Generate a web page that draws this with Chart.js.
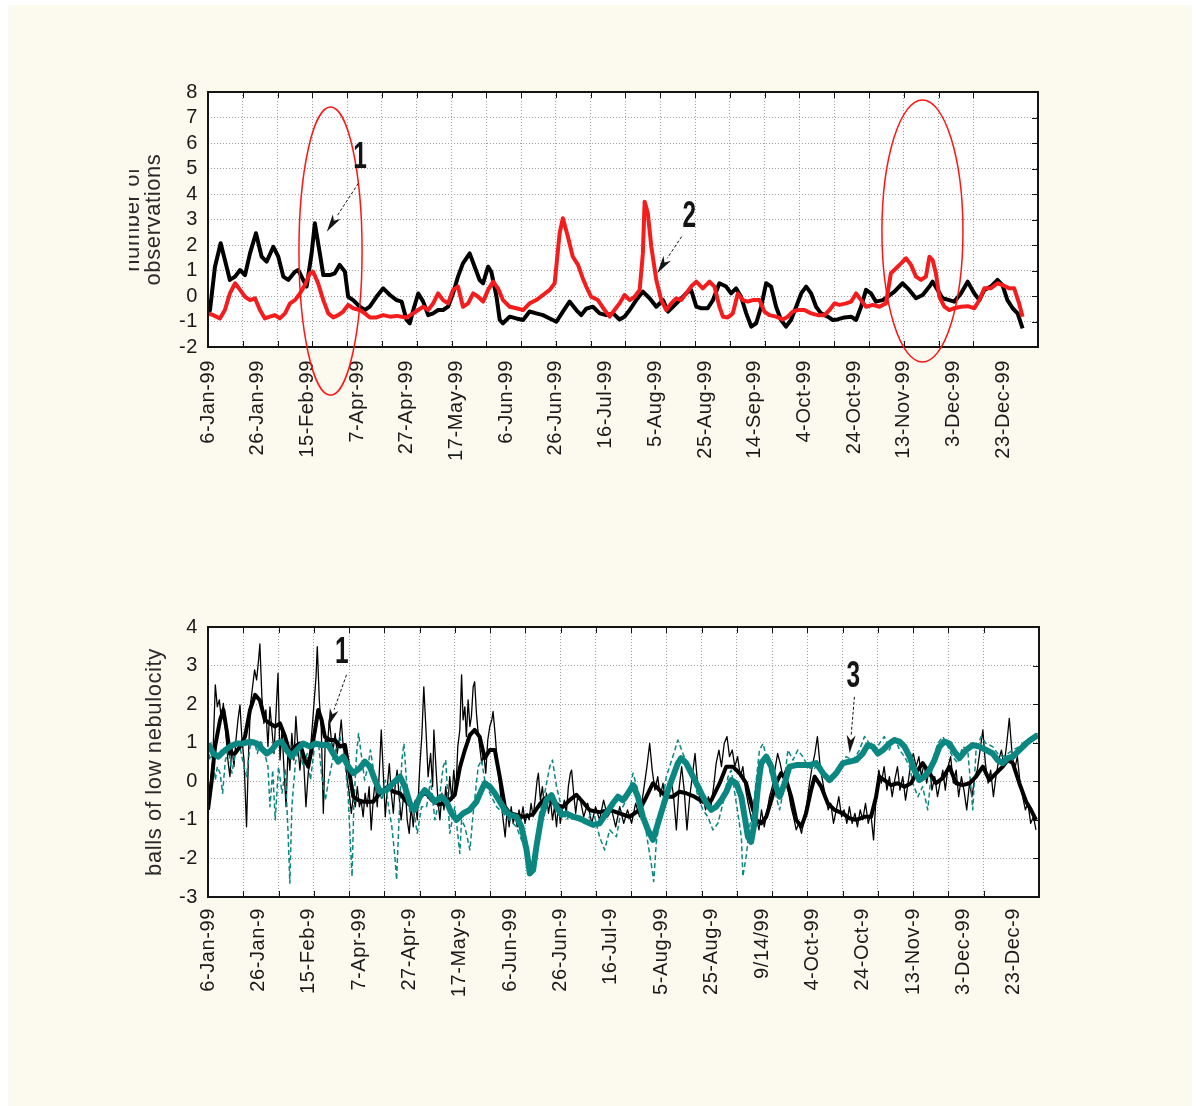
<!DOCTYPE html>
<html>
<head>
<meta charset="utf-8">
<script src="https://cdn.jsdelivr.net/npm/chart.js@4.4.1/dist/chart.umd.min.js"></script>
<style>
  html, body { margin: 0; padding: 0; background: #ffffff; }
  #page { position: absolute; left: 8px; top: 5px; width: 1184px; height: 1101px; background: #fcf9ee; }
  #topClip { position: absolute; left: 129px; top: 0; width: 1072px; height: 520px; overflow: hidden; }
  #topChart { position: absolute; left: -129px; top: 0; }
  #bottomChart { position: absolute; left: 0; top: 560px; }
</style>
</head>
<body>
<div id="page"></div>
<div id="topClip"><canvas id="topChart" width="1201" height="520"></canvas></div>
<canvas id="bottomChart" width="1201" height="540"></canvas>
<script>
// x values are days counted from 6-Jan-99
const topLabels = ['6-Jan-99', '26-Jan-99', '15-Feb-99', '7-Apr-99', '27-Apr-99', '17-May-99', '6-Jun-99',
  '26-Jun-99', '16-Jul-99', '5-Aug-99', '25-Aug-99', '14-Sep-99', '4-Oct-99', '24-Oct-99', '13-Nov-99',
  '3-Dec-99', '23-Dec-99'];
const bottomLabels = ['6-Jan-99', '26-Jan-9', '15-Feb-9', '7-Apr-99', '27-Apr-9', '17-May-9', '6-Jun-99',
  '26-Jun-9', '16-Jul-9', '5-Aug-99', '25-Aug-9', '9/14/99', '4-Oct-99', '24-Oct-9', '13-Nov-9',
  '3-Dec-99', '23-Dec-9'];
const topTicks = [-2, -1, 0, 1, 2, 3, 4, 5, 6, 7, 8];
const bottomTicks = [-3, -2, -1, 0, 1, 2, 3, 4];

// number of observations, curve 1 (black)
const obsBlack = [[0.1,-0.68],[0.8,-0.55],[2.8,1.15],[5.1,2.07],[6.8,1.41],[8.8,0.63],[10.9,0.76],[12.9,1.02],
  [14.9,0.82],[16.9,1.67],[19.3,2.46],[21.6,1.54],[23.6,1.35],[26.3,1.93],[28.3,1.54],[30.3,0.76],[32.3,0.63],
  [35,0.95],[36.3,1.02],[38.3,0.63],[39.7,0.37],[41.7,1.67],[43,2.85],[45,1.67],[46.4,0.82],[49,0.82],[51,0.89],
  [53,1.22],[55.1,0.95],[56.4,-0.03],[58.4,-0.16],[61.1,-0.42],[63.1,-0.55],[65.1,-0.42],[67.8,-0.03],[70.5,0.30],
  [73.2,0.04],[75.9,-0.16],[77.9,-0.22],[79.9,-0.94],[81.2,-1.07],[82.6,-0.55],[84.6,0.10],[86.6,-0.22],
  [88.6,-0.75],[90.6,-0.68],[92.6,-0.55],[94.6,-0.55],[96.6,-0.42],[98.6,0.10],[100.6,0.76],[102.6,1.28],
  [105.3,1.67],[107.3,1.15],[109.3,0.63],[110.7,0.50],[112.7,1.15],[114,0.95],[116.1,-0.03],[117.4,-0.94],
  [118.7,-1.07],[121.4,-0.81],[124.1,-0.88],[126.8,-0.94],[129.4,-0.61],[132.1,-0.68],[134.8,-0.75],
  [137.5,-0.88],[140.2,-1.01],[142.8,-0.61],[145.5,-0.22],[148.2,-0.55],[150.2,-0.75],[152.2,-0.5],
  [154.9,-0.42],[157.6,-0.68],[160.3,-0.75],[163.0,-0.68],[165.6,-0.92],[167.6,-0.81],[169.7,-0.55],
  [172.3,-0.16],[175.0,0.17],[177.7,-0.09],[180.4,-0.42],[183.1,-0.16],[185.1,-0.61],[187.1,-0.42],
  [189.8,-0.16],[192.4,0.10],[194.4,0.24],[196.5,-0.42],[198.5,-0.48],[201.1,-0.48],[203.2,-0.16],
  [205.8,0.50],[208.5,0.37],[210.5,0.10],[212.5,0.30],[214.5,-0.03],[216.6,-0.68],[218.6,-1.20],
  [220.6,-1.07],[222.6,-0.42],[224.6,0.50],[226.6,0.37],[228.6,-0.42],[230.6,-0.94],[232.6,-1.20],
  [234.6,-0.94],[236.7,-0.42],[238.7,0.10],[240.7,0.37],[242.7,0.10],[244.7,-0.42],[246.7,-0.68],
  [249.4,-0.81],[251.4,-0.94],[253.4,-0.92],[256.1,-0.84],[258.8,-0.81],[260.8,-0.94],[262.8,-0.42],
  [264.8,0.24],[266.8,0.10],[268.8,-0.22],[271.5,-0.16],[273.5,-0.03],[276.2,0.17],[279.5,0.50],
  [282.2,0.24],[284.9,-0.09],[287.6,0.04],[290.3,0.37],[291.6,0.56],[293.6,0.24],[295.6,-0.09],
  [298.3,-0.16],[300.3,-0.22],[303.0,0.10],[305.7,0.56],[308.4,0.10],[310.4,-0.16],[312.4,0.24],
  [315.0,0.37],[317.7,0.63],[319.7,0.43],[321.7,-0.16],[323.8,-0.48],[325.8,-0.68],[327.8,-1.27]];

// number of observations, curve 2 (red)
const obsRed = [[0.1,-0.68],[2.1,-0.75],[4.8,-0.88],[6.8,-0.55],[8.8,0.10],[10.9,0.50],[12.9,0.24],
  [14.9,-0.03],[16.9,-0.16],[18.9,-0.09],[20.9,-0.55],[22.9,-0.88],[24.9,-0.81],[26.9,-0.75],[28.9,-0.88],
  [31.0,-0.68],[33.0,-0.29],[35.0,-0.16],[37.0,0.10],[39.0,0.43],[41.0,0.89],[42.3,0.95],[44.3,0.50],
  [46.4,-0.16],[48.4,-0.68],[50.4,-0.84],[52.4,-0.75],[54.4,-0.61],[56.4,-0.35],[58.4,-0.48],[61.1,-0.55],
  [63.1,-0.68],[65.1,-0.84],[67.8,-0.84],[70.5,-0.75],[73.2,-0.81],[75.9,-0.78],[77.9,-0.81],[79.9,-0.84],
  [82.6,-0.68],[84.6,-0.55],[86.6,-0.42],[88.6,-0.55],[90.6,-0.29],[92.6,0.10],[94.6,-0.16],[96.6,-0.29],
  [98.6,0.24],[100.6,0.37],[102.6,-0.42],[104.7,-0.29],[106.7,0.10],[108.7,-0.03],[110.7,-0.22],[112.7,0.24],
  [114.7,0.56],[116.7,0.30],[118.7,-0.16],[121.4,-0.42],[124.1,-0.48],[126.8,-0.55],[129.4,-0.29],
  [132.1,-0.16],[134.8,0.04],[137.5,0.24],[139.5,0.50],[141.5,2.46],[142.8,3.05],[144.8,2.33],[146.8,1.54],
  [148.9,1.22],[150.8,0.7],[152.2,0.37],[154.2,-0.03],[156.9,-0.16],[159.6,-0.55],[161.6,-0.81],
  [163.6,-0.55],[165.6,-0.29],[167.6,0.04],[169.7,-0.16],[171.7,-0.03],[173.7,0.24],[175.0,1.67],
  [175.7,3.70],[177.0,3.24],[178.4,1.93],[180.4,0.63],[182.4,-0.16],[184.4,-0.55],[186.4,-0.29],
  [188.4,-0.09],[190.4,-0.16],[192.4,0.10],[194.4,0.37],[196.5,0.56],[199.1,0.30],[201.8,0.56],
  [203.8,0.37],[205.8,-0.42],[207.2,-0.81],[209.2,-0.84],[211.2,-0.68],[213.2,0.10],[215.2,-0.16],
  [217.2,-0.22],[219.2,-0.16],[221.9,-0.16],[223.9,-0.61],[225.9,-0.75],[228.6,-0.81],[231.3,-0.92],
  [233.3,-0.81],[235.3,-0.61],[237.3,-0.55],[240.0,-0.55],[242.7,-0.68],[245.4,-0.75],[248.0,-0.75],
  [250.1,-0.55],[252.1,-0.29],[254.1,-0.35],[256.8,-0.29],[258.8,-0.22],[260.8,0.10],[262.8,-0.16],
  [264.8,-0.42],[267.5,-0.35],[270.2,-0.42],[272.8,-0.29],[274.8,0.89],[276.9,1.09],[278.9,1.28],
  [280.9,1.48],[282.9,1.22],[284.9,0.76],[286.9,0.63],[288.9,0.76],[290.3,1.54],[291.6,1.41],[292.9,0.89],
  [294.3,-0.03],[296.3,-0.42],[298.3,-0.55],[300.3,-0.48],[303.0,-0.42],[305.7,-0.40],[308.4,-0.48],
  [310.4,-0.16],[312.4,0.30],[315.0,0.30],[317.7,0.50],[319.7,0.43],[322.4,0.30],[324.4,0.30],
  [326.4,-0.29],[327.8,-0.81]];

// low cloud balls, curve 1: daily values (thin black) and smoothed (thick black)
const cloudDaily = [[0,-0.79],[0.8,-0.14],[1.9,0.55],[2.9,2.50],[3.7,1.93],[4.5,2.11],[5.3,1.59],[6.1,2.02],
  [7.1,1.24],[7.9,0.55],[8.7,0.12],[9.5,0.90],[10.3,0.38],[11.1,1.07],[11.9,1.59],[12.7,1.98],[13.5,1.07],
  [14.3,0.55],[15.3,-1.18],[16.1,0.72],[16.9,2.02],[17.7,2.45],[18.5,2.89],[19.3,2.63],[20.1,3.15],[20.6,3.56],
  [21.4,2.19],[22.2,1.50],[23.0,1.85],[23.8,0.90],[24.6,1.93],[25.4,1.33],[26.2,0.72],[27.0,1.76],[27.8,2.80],
  [28.6,0.55],[29.4,1.33],[30.2,0.29],[31.0,-0.66],[31.8,0.90],[32.5,0.29],[33.3,1.24],[34.1,0.55],[34.9,1.68],
  [35.7,0.90],[36.5,0.29],[37.3,0.90],[38.1,0.38],[38.9,-0.66],[39.7,0.12],[40.5,0.72],[41.3,1.33],[42.1,2.02],
  [42.9,2.71],[43.4,3.49],[44.2,2.11],[45.0,1.33],[45.8,-0.83],[46.6,1.16],[47.4,0.90],[48.2,1.59],[49.0,1.07],
  [49.7,0.81],[50.5,1.24],[51.3,0.72],[52.1,1.07],[52.9,1.59],[53.7,0.90],[54.5,0.55],[55.3,0.03],[56.1,-0.31],
  [56.9,-0.83],[57.7,-0.40],[58.5,-0.66],[59.3,-0.14],[60.1,-0.66],[60.8,-0.49],[61.6,-0.92],[62.4,-0.31],
  [63.2,-0.66],[64.0,-0.14],[64.8,-1.26],[65.6,-0.49],[66.4,0.03],[67.2,-0.66],[68.0,0.21],[68.8,1.33],
  [69.6,0.21],[70.4,-0.92],[71.2,-0.14],[72.0,0.46],[72.8,-0.31],[73.6,-0.83],[74.3,-0.14],[75.1,0.29],
  [75.9,-0.40],[76.7,-1.00],[77.5,-0.49],[78.3,-0.14],[79.1,-1.00],[79.9,-1.35],[80.7,-0.66],[81.5,-1.18],
  [82.3,-0.49],[83.1,-1.00],[84.1,0.38],[84.9,1.16],[85.7,2.45],[86.5,1.42],[87.4,0.12],[88.4,0.72],
  [89.2,-0.14],[89.7,1.33],[90.5,0.38],[91.3,-0.49],[92.1,-1.00],[92.9,-0.31],[93.7,-0.74],[94.4,-0.14],
  [95.2,-0.66],[96.0,0.12],[96.8,-0.49],[97.6,0.29],[98.4,-0.31],[99.2,0.90],[100.0,1.33],[100.7,2.76],
  [101.3,1.59],[102.0,1.93],[102.6,1.16],[103.3,2.11],[104.0,1.42],[104.6,1.68],[105.3,2.45],[105.9,2.58],
  [106.6,1.76],[107.3,1.24],[107.9,0.90],[108.7,0.47],[109.5,0.72],[110.3,0.21],[111.1,1.07],[111.9,1.42],
  [112.7,1.59],[113.2,1.81],[114.0,1.24],[114.8,0.55],[115.6,0.03],[116.4,-0.49],[117.2,-1.00],[118.0,-1.44],
  [118.8,-0.74],[119.6,-1.18],[120.4,-0.66],[121.2,-1.09],[122.0,-0.83],[122.8,-1.18],[123.5,-0.74],
  [124.3,-1.00],[125.1,-0.66],[125.9,-1.09],[126.7,-0.83],[127.5,-1.00],[128.3,-0.57],[129.1,-0.92],
  [129.9,-0.49],[130.7,0.03],[131.2,0.21],[132.0,-0.49],[132.8,-0.14],[133.6,-0.66],[134.4,-0.31],
  [135.2,-0.83],[136.0,-0.49],[136.8,-1.00],[137.6,-0.66],[138.4,-1.18],[139.2,-0.57],[139.9,-1.09],
  [140.7,-0.74],[141.5,-0.49],[142.3,-0.83],[143.1,-0.14],[143.9,0.21],[144.4,0.29],[145.2,-0.31],
  [146.0,-0.83],[146.8,-0.40],[147.6,-0.40],[149.2,-0.92],[150.8,-0.57],[152.4,-1.09],[153.9,-0.66],
  [155.5,-1.00],[157.1,-0.49],[158.7,-0.92],[160.3,-0.74],[161.9,-1.18],[163.5,-0.66],[165.1,-1.09],
  [166.6,-0.74],[168.2,-1.09],[169.8,-0.57],[171.4,-0.92],[173.0,-0.23],[174.3,0.38],[175.4,0.98],
  [176.4,0.29],[177.5,-0.23],[178.6,0.12],[179.6,-0.40],[180.7,-0.05],[181.7,-0.57],[182.8,-0.23],
  [183.8,0.12],[184.9,-0.40],[186.0,-1.26],[187.0,-0.23],[188.1,0.38],[189.1,-0.23],[190.2,-1.26],
  [191.3,-0.40],[192.3,0.12],[193.4,0.72],[194.4,-0.05],[195.5,-0.57],[196.5,-0.40],[197.6,-0.74],
  [198.7,-0.40],[199.7,-0.66],[200.8,-0.14],[201.8,0.47],[202.9,0.81],[203.9,0.38],[205.0,0.98],[206.1,1.16],
  [207.1,0.64],[208.2,0.81],[209.2,0.38],[210.3,0.64],[211.4,0.12],[212.4,0.38],[213.5,-0.23],[214.5,-0.57],
  [215.6,-0.92],[216.6,-1.18],[217.7,-0.92],[218.8,-1.26],[219.8,-0.74],[220.9,-1.18],[221.9,-0.83],
  [223.0,-0.40],[224.1,-0.14],[225.1,0.29],[226.2,0.72],[227.2,0.47],[228.3,0.12],[229.3,0.29],[230.4,-0.23],
  [231.5,-0.66],[232.5,-0.92],[233.6,-1.26],[234.6,-1.09],[235.7,-1.35],[236.8,-0.92],[237.8,-0.57],
  [238.9,-0.05],[239.9,0.38],[241.0,0.72],[242.0,1.16],[243.1,0.38],[244.2,-0.05],[245.2,-0.40],[246.3,-0.74],
  [247.3,-0.57],[248.4,-1.09],[249.5,-0.74],[250.5,-0.40],[251.6,-0.92],[252.6,-0.74],[253.7,-1.09],
  [254.7,-0.66],[255.8,-1.09],[256.9,-0.83],[257.9,-1.18],[259.0,-0.74],[260.0,-1.00],[261.1,-0.57],
  [262.2,-1.09],[263.2,-0.83],[264.3,-1.52],[265.3,-0.40],[266.4,0.29],[267.4,-0.05],[268.5,0.38],
  [269.6,-0.23],[270.6,0.12],[271.7,-0.40],[272.7,0.03],[273.8,0.38],[274.8,-0.23],[275.9,0.12],[277.0,-0.49],
  [278.0,-0.05],[279.1,0.47],[280.1,0.72],[281.2,0.38],[282.3,0.64],[283.3,0.12],[284.4,0.47],[285.4,-0.05],
  [286.5,0.38],[287.5,-0.23],[288.6,0.12],[289.7,-0.40],[290.7,-0.05],[291.8,0.29],[292.8,-0.23],[293.9,0.38],
  [294.9,0.64],[296.0,-0.05],[297.1,0.29],[298.1,-0.40],[299.2,0.12],[300.2,-0.23],[301.3,-0.74],[302.4,-0.05],
  [303.4,-0.40],[304.5,0.12],[305.5,0.29],[306.6,0.81],[307.7,1.33],[308.7,0.47],[309.8,-0.05],[310.8,0.29],
  [311.9,-0.40],[312.9,0.12],[314.0,0.55],[315.1,0.81],[316.1,0.38],[317.2,0.98],[318.2,1.63],[319.3,0.72],
  [320.3,0.29],[321.4,0.64],[322.5,-0.05],[323.5,-0.40],[324.6,-0.74],[325.6,-0.57],[326.7,-1.09],
  [327.8,-0.92],[328.8,-1.26]];
const cloudSmooth = [[0,-0.74],[1.5,0.03],[2.8,0.90],[4.8,1.59],[6.1,1.85],[7.4,1.33],[8.7,0.72],[10.7,0.72],
  [12.7,0.90],[14.7,1.16],[16.7,1.85],[18.7,2.24],[20.6,2.10],[22.6,1.59],[24.6,1.50],[26.6,1.42],[28.6,1.50],
  [30.6,1.16],[32.5,0.72],[34.5,0.90],[36.5,0.98],[38.5,0.55],[39.8,0.38],[41.1,0.81],[42.5,1.33],[43.8,1.85],
  [45.1,1.59],[46.4,1.16],[48.4,1.07],[50.4,1.07],[52.4,0.90],[54.4,0.94],[56.4,0.12],[57.7,-0.40],[59.7,-0.49],
  [61.7,-0.53],[63.6,-0.53],[65.6,-0.53],[67.6,-0.36],[69.6,-0.23],[71.6,-0.14],[73.6,-0.27],[76.2,-0.31],
  [78.8,-0.53],[81.5,-0.70],[84,-0.4],[86.5,-0.3],[89,-0.5],[92,-0.6],[95,-0.55],[98,-0.35],[100,0.35],
  [102,0.81],[104,1.2],[105.9,1.33],[107.9,1.15],[109.9,0.6],[111.9,0.81],[113.9,0.81],[115.9,0.1],
  [117.9,-0.66],[119.8,-0.83],[122.5,-0.87],[125.1,-0.92],[127.1,-0.9],[129.1,-0.85],[131.7,-0.6],
  [133.7,-0.45],[135.7,-0.49],[138.4,-0.62],[141,-0.66],[143.6,-0.49],[146.3,-0.35],[149,-0.55],[151.6,-0.75],
  [155.5,-0.8],[159.5,-0.74],[163.5,-0.83],[167.4,-0.92],[171.4,-0.74],[174.1,-0.40],[176.7,-0.05],
  [179.3,-0.23],[182,-0.40],[184.6,-0.40],[187.3,-0.27],[189.9,-0.31],[193.2,-0.40],[196.5,-0.53],
  [199.9,-0.49],[203.2,-0.05],[205.8,0.38],[208.4,0.38],[211.1,0.21],[213.7,-0.05],[215.7,-0.57],
  [217.7,-1.00],[219.7,-1.09],[221.7,-0.92],[223.7,-0.49],[225.6,-0.05],[227.6,0.21],[229.6,0.03],
  [231.6,-0.40],[233.6,-1.00],[235.6,-1.18],[237.5,-0.83],[239.5,-0.23],[240.9,0.12],[243.5,-0.14],
  [246.1,-0.57],[248.8,-0.74],[252.1,-0.83],[254.7,-0.96],[257.4,-1.00],[260.7,-0.92],[263.3,-0.92],
  [265.3,-0.40],[266.6,0.12],[268.6,0.03],[271.3,-0.10],[273.9,-0.05],[276.6,-0.14],[279.2,-0.05],
  [281.9,0.29],[283.8,0.47],[286.5,0.21],[289.1,-0.05],[291.8,0.08],[294.4,0.38],[297.1,-0.05],[299.7,-0.10],
  [302.4,-0.05],[305,0.12],[307.7,0.38],[310.3,0.03],[313,0.21],[315.6,0.38],[317.6,0.55],[319.6,0.47],
  [322.2,-0.05],[324.9,-0.53],[326.8,-0.74],[328.8,-1.00]];

// low cloud balls, curve 3: daily values (dashed teal) and smoothed (thick teal)
const tealDaily = [[0,0.90],[0.8,0.55],[1.9,0.72],[2.9,0.03],[3.7,0.38],[4.8,0.21],[5.8,-0.31],[6.9,0.55],
  [8.2,0.81],[9.5,0.21],[10.8,0.72],[12.4,0.98],[14.0,0.47],[15.3,0.12],[16.7,0.90],[18.3,1.07],[19.6,0.72],
  [20.9,1.07],[22.5,0.72],[23.8,0.38],[24.6,-0.66],[25.7,0.29],[26.7,-1.00],[28.0,0.38],[29.4,-0.31],[30.7,0.29],
  [31.8,-1.35],[32.5,-2.64],[33.3,-0.66],[34.7,0.47],[36.2,0.90],[37.8,0.38],[39.4,0.72],[40.7,0.03],[42.3,0.90],
  [43.9,0.98],[45.2,0.12],[46.6,-0.49],[47.9,0.03],[49.5,0.55],[51.1,0.90],[52.4,1.16],[54.0,0.72],[55.6,-0.31],
  [56.6,-1.70],[57.2,-2.47],[57.9,-0.66],[59.0,0.72],[59.8,1.24],[60.8,0.72],[62.2,0.03],[63.5,0.38],[64.5,0.81],
  [65.9,0.21],[67.5,-0.14],[69.1,-0.49],[70.4,0.03],[71.7,-0.66],[73.0,-1.18],[74.1,-1.87],[74.9,-2.56],
  [75.9,-0.92],[77.0,0.55],[77.8,0.98],[78.8,0.03],[80.2,-0.83],[81.5,-0.66],[83.1,-1.35],[84.8,-0.66],
  [86.8,-0.66],[88.4,0.03],[90.1,-1.00],[91.8,-0.49],[93.4,0.38],[94.4,0.55],[96.0,-1.35],[98.0,-0.66],
  [100.0,-1.87],[100.7,-1.00],[102.0,-1.18],[104.0,-1.78],[105.3,-0.83],[107.3,0.38],[108.6,0.55],[109.9,0.03],
  [111.9,-0.31],[114.6,-0.66],[117.2,-0.83],[119.8,-1.00],[122.5,-1.18],[124.5,-1.52],[126.5,-1.87],
  [127.8,-2.39],[129.8,-1.87],[131.7,-0.83],[133.7,-0.31],[135.7,0.38],[136.8,0.55],[138.4,-0.14],
  [140.3,-0.66],[142.3,-1.00],[144.3,-0.83],[146.3,-1.00],[150.2,-1.09],[152.9,-0.74],[155.5,-1.44],
  [157.5,-1.78],[159.5,-1.26],[162.2,-1.44],[164.1,-0.74],[166.8,-0.40],[168.8,0.21],[170.7,-0.23],
  [172.7,-0.74],[174.7,-1.61],[176.0,-2.13],[177.0,-2.60],[178.0,-1.61],[180.0,-0.74],[182.0,0.12],
  [184.6,0.64],[186.6,1.07],[188.6,0.72],[190.6,0.38],[192.6,0.12],[194.6,-0.40],[196.5,-0.74],[198.5,-0.92],
  [200.5,-1.26],[202.5,-1.09],[204.5,-0.57],[206.5,0.12],[207.8,0.29],[209.8,-0.57],[211.8,-1.44],
  [212.4,-2.47],[213.7,-1.95],[215.1,-1.18],[217.0,-0.40],[219.0,0.81],[220.4,0.98],[221.7,0.64],[223.7,0.12],
  [225.6,-0.40],[227.0,-0.74],[228.3,-0.31],[230.3,0.81],[232.3,0.55],[234.2,0.81],[236.2,0.64],[238.2,0.38],
  [240.2,0.29],[242.8,0.47],[245.5,0.12],[248.1,0.03],[250.8,0.29],[253.4,0.64],[256.1,0.55],[258.7,0.81],
  [260.7,1.16],[262.7,0.98],[264.7,0.72],[266.6,0.98],[268.6,1.16],[270.6,0.81],[272.6,1.16],[274.6,0.81],
  [276.6,0.64],[278.6,0.38],[279.9,-0.05],[281.9,-0.40],[283.8,-0.14],[285.8,-0.74],[287.8,0.55],[289.8,0.98],
  [291.8,1.16],[293.8,0.90],[295.7,0.64],[297.7,0.47],[299.7,0.90],[301.7,0.81],[303.7,-0.74],[305.0,0.81],
  [307.0,1.16],[309.0,0.98],[311.6,0.90],[313.6,0.72],[315.6,0.64],[317.6,0.72],[319.6,0.81],[322.2,0.90],
  [324.9,1.07],[327.5,1.16],[329.5,1.24]];
const tealSmooth = [[0.1,0.98],[2.1,0.72],[4.1,0.64],[6.1,0.77],[8.7,0.90],[11.4,0.98],[14.0,0.98],[16.7,1.03],
  [19.3,0.98],[21.3,0.85],[23.3,0.72],[25.3,0.81],[27.3,0.98],[29.2,1.03],[31.2,0.81],[33.2,0.64],[35.2,0.81],
  [37.8,0.98],[40.5,0.90],[42.5,0.98],[45.1,0.94],[47.8,0.94],[49.7,0.72],[51.7,0.51],[53.7,0.64],[55.7,0.38],
  [57.7,0.21],[60.3,0.34],[62.3,0.51],[64.3,0.38],[66.3,0.03],[68.3,-0.27],[70.9,-0.23],[73.5,-0.05],
  [76.2,0.12],[78.2,-0.14],[80.2,-0.57],[82.1,-0.74],[84.1,-0.40],[86.1,-0.23],[88.1,-0.36],[90.1,-0.53],
  [92.7,-0.40],[94.7,-0.53],[96.7,-0.83],[98.7,-1.00],[101.3,-0.83],[103.9,-0.74],[106.6,-0.53],[108.6,-0.23],
  [109.9,-0.05],[111.9,-0.14],[113.9,-0.31],[115.9,-0.53],[117.9,-0.74],[119.8,-0.87],[122.5,-0.92],
  [124.5,-1.18],[126.5,-1.78],[127.8,-2.39],[129.1,-2.30],[130.4,-1.70],[132.4,-0.92],[134.4,-0.49],
  [136.4,-0.36],[138.4,-0.66],[140.3,-0.87],[142.3,-0.83],[145.0,-0.92],[147.6,-0.96],[150.2,-1.05],
  [152.9,-1.13],[155.5,-1.09],[158.2,-0.83],[160.8,-0.57],[162.8,-0.40],[164.8,-0.49],[166.8,-0.31],
  [168.8,-0.10],[170.7,-0.40],[172.7,-0.92],[174.7,-1.26],[176.7,-1.52],[178.7,-1.09],[180.7,-0.66],
  [182.7,-0.23],[184.6,0.12],[186.6,0.47],[187.9,0.60],[189.9,0.47],[191.9,0.21],[193.9,-0.05],[195.9,-0.31],
  [197.9,-0.57],[199.9,-0.74],[201.8,-0.66],[203.8,-0.49],[205.8,-0.27],[207.8,0.03],[209.8,-0.05],
  [211.8,-0.40],[213.1,-0.92],[214.4,-1.44],[215.7,-1.57],[217.0,-1.09],[218.4,-0.14],[219.7,0.47],
  [221.7,0.64],[223.7,0.38],[225.6,-0.14],[227.0,-0.40],[229.0,-0.05],[230.9,0.38],[233.6,0.42],[236.2,0.42],
  [238.9,0.42],[241.5,0.47],[244.2,0.21],[246.8,0.03],[249.5,0.21],[252.1,0.47],[254.7,0.51],[257.4,0.55],
  [260.0,0.72],[262.0,0.94],[264.0,0.90],[266.0,0.72],[268.0,0.81],[270.6,0.98],[272.6,1.07],[274.6,1.03],
  [276.6,0.90],[278.6,0.64],[280.5,0.29],[282.5,0.03],[284.5,0.12],[286.5,0.29],[288.5,0.55],[290.5,0.90],
  [292.4,1.03],[294.4,0.98],[296.4,0.77],[298.4,0.60],[301.0,0.81],[303.7,0.94],[306.3,0.90],[309.0,0.81],
  [311.6,0.72],[313.6,0.55],[315.6,0.47],[317.6,0.60],[319.6,0.64],[322.2,0.81],[324.9,0.98],[327.5,1.11],
  [329.5,1.20]];

Chart.defaults.font.family = '"Liberation Sans", Arial, sans-serif';
Chart.defaults.color = '#1a1a1a';

const INK = '#141414';
const GRID = '#a0a0a0';
const TEAL = '#0b8782';
const SPACING = '0.6px';

// white plot area, solid frame and short inward ticks
const frame = {
  id: 'frame',
  beforeUpdate(chart) { chart.ctx.letterSpacing = SPACING; },
  beforeDraw(chart) {
    const { ctx, chartArea: a } = chart;
    ctx.letterSpacing = SPACING;
    ctx.save();
    ctx.fillStyle = '#ffffff';
    ctx.fillRect(a.left, a.top, a.right - a.left, a.bottom - a.top);
    ctx.restore();
  },
  afterDraw(chart) {
    const { ctx, chartArea: a, scales } = chart;
    ctx.save();
    ctx.strokeStyle = INK;
    ctx.lineWidth = 1;
    ctx.beginPath();
    scales.xg.ticks.forEach(t => {
      const px = Math.round(scales.xg.getPixelForValue(t.value)) + 0.5;
      ctx.moveTo(px, a.top); ctx.lineTo(px, a.top + 6);
      ctx.moveTo(px, a.bottom); ctx.lineTo(px, a.bottom - 6);
    });
    scales.y.ticks.forEach(t => {
      const py = Math.round(scales.y.getPixelForValue(t.value)) + 0.5;
      ctx.moveTo(a.right, py); ctx.lineTo(a.right - 6, py);
    });
    ctx.stroke();
    ctx.lineWidth = 2;
    ctx.strokeRect(a.left, a.top, a.right - a.left, a.bottom - a.top);
    ctx.restore();
  }
};

// red rings, arrows and curve numbers, placed in data units
const notes = {
  id: 'notes',
  afterDraw(chart, args, opts) {
    const { ctx, scales: { x, y } } = chart;
    const px = v => x.getPixelForValue(v);
    const py = v => y.getPixelForValue(v);
    ctx.save();
    (opts.rings || []).forEach(r => {
      ctx.beginPath();
      ctx.ellipse(px(r.x), py(r.y), Math.abs(px(r.x + r.rx) - px(r.x)), Math.abs(py(r.y + r.ry) - py(r.y)),
        0, 0, Math.PI * 2);
      ctx.strokeStyle = '#ff1414';
      ctx.lineWidth = 1.5;
      ctx.stroke();
    });
    (opts.arrows || []).forEach(a => {
      const x1 = px(a.from[0]), y1 = py(a.from[1]), x2 = px(a.to[0]), y2 = py(a.to[1]);
      const ang = Math.atan2(y2 - y1, x2 - x1);
      const len = 18, half = 4.5;
      const bx = x2 - len * Math.cos(ang), by = y2 - len * Math.sin(ang);
      ctx.strokeStyle = INK;
      ctx.lineWidth = 1;
      ctx.setLineDash([3, 2]);
      ctx.beginPath(); ctx.moveTo(x1, y1); ctx.lineTo(bx, by); ctx.stroke();
      ctx.setLineDash([]);
      ctx.fillStyle = INK;
      ctx.beginPath();
      ctx.moveTo(x2, y2);
      ctx.lineTo(bx + half * Math.sin(ang), by - half * Math.cos(ang));
      ctx.lineTo(bx + 5 * Math.cos(ang), by + 5 * Math.sin(ang));
      ctx.lineTo(bx - half * Math.sin(ang), by + half * Math.cos(ang));
      ctx.closePath();
      ctx.fill();
    });
    (opts.labels || []).forEach(l => {
      ctx.save();
      ctx.translate(px(l.x), py(l.y));
      ctx.scale(0.66, 1);
      ctx.letterSpacing = '0px';
      ctx.font = 'bold 37px "Liberation Sans", Arial, sans-serif';
      ctx.fillStyle = INK;
      ctx.textAlign = 'center';
      ctx.textBaseline = 'middle';
      ctx.fillText(l.text, 0, 0);
      ctx.restore();
    });
    ctx.restore();
  }
};

function lineSet(data, color, width, dash) {
  return {
    data, borderColor: color, borderWidth: width, borderDash: dash || [],
    pointRadius: 0, tension: 0, fill: false, borderJoinStyle: 'round', xAxisID: 'x', yAxisID: 'y'
  };
}

function scalesFor(o) {
  const hidden = c => (c.tick && (c.tick.value === o.yMin || c.tick.value === o.yMax)) ? 'rgba(0,0,0,0)' : GRID;
  return {
    xg: {
      type: 'linear', position: 'top', min: 0, max: o.xMax,
      ticks: { display: false, stepSize: 14 },
      grid: { color: GRID, lineWidth: 1, drawTicks: false },
      border: { display: false, dash: [1, 2] },
      afterFit: s => { s.height = 0; }
    },
    x: {
      type: 'linear', position: 'bottom', min: 0, max: o.xMax,
      afterBuildTicks: s => { s.ticks = o.labels.map((_, i) => ({ value: i * 20 })); },
      ticks: {
        autoSkip: false, minRotation: 90, maxRotation: 90, padding: o.labelPad,
        font: { size: 20 }, color: '#1a1a1a',
        callback: v => o.labels[Math.round(v / 20)] || ''
      },
      grid: { display: false, drawTicks: false },
      border: { display: false },
      afterFit: s => { s.height = o.labelHeight; }
    },
    y: {
      type: 'linear', position: 'left', min: o.yMin, max: o.yMax,
      afterBuildTicks: s => { s.ticks = o.yTicks.map(v => ({ value: v })); },
      ticks: { autoSkip: false, padding: 10, font: { size: 20 }, color: '#1a1a1a' },
      grid: { color: hidden, lineWidth: 1, drawTicks: false },
      border: { display: false, dash: [1, 2] },
      title: {
        display: true, text: o.title, color: '#2a2a2a',
        font: { size: 22, lineHeight: o.titleLine }, padding: { top: o.titlePad, bottom: 0 }
      },
      afterFit: s => { s.width = 208; }
    }
  };
}

new Chart(document.getElementById('topChart'), {
  type: 'line',
  data: {
    datasets: [
      lineSet(obsRed, '#f41c1c', 4),
      lineSet(obsBlack, '#000000', 4)
    ]
  },
  options: {
    responsive: false, animation: false, events: [],
    layout: { padding: { top: 92, right: 163, bottom: 0, left: 0 } },
    scales: scalesFor({
      xMax: 334, yMin: -2, yMax: 8, yTicks: topTicks, labels: topLabels, labelPad: 13, labelHeight: 173,
      title: ['number of', 'observations'], titleLine: 21 / 22, titlePad: 122.5
    }),
    plugins: {
      legend: { display: false }, tooltip: { enabled: false },
      notes: {
        rings: [{ x: 49.3, y: 1.76, rx: 12.7, ry: 5.65 }, { x: 287.5, y: 2.55, rx: 16.3, ry: 5.14 }],
        arrows: [{ from: [60.5, 4.42], to: [47.8, 2.52] }, { from: [190.6, 2.33], to: [180.8, 0.89] }],
        labels: [{ text: '1', x: 61.2, y: 5.41 }, { text: '2', x: 193.7, y: 3.11 }]
      }
    }
  },
  plugins: [frame, notes]
});

new Chart(document.getElementById('bottomChart'), {
  type: 'line',
  data: {
    datasets: [
      lineSet(tealSmooth, TEAL, 6),
      lineSet(cloudSmooth, '#000000', 4),
      lineSet(tealDaily, TEAL, 1.5, [5, 3]),
      lineSet(cloudDaily, '#000000', 1.3)
    ]
  },
  options: {
    responsive: false, animation: false, events: [],
    layout: { padding: { top: 67, right: 162, bottom: 0, left: 0 } },
    scales: scalesFor({
      xMax: 330, yMin: -3, yMax: 4, yTicks: bottomTicks, labels: bottomLabels, labelPad: 11, labelHeight: 203,
      title: 'balls of low nebulocity', titleLine: 1, titlePad: 144
    }),
    plugins: {
      legend: { display: false }, tooltip: { enabled: false },
      notes: {
        arrows: [{ from: [55.0, 2.76], to: [47.7, 1.42] }, { from: [256.7, 2.19], to: [254.8, 0.73] }],
        labels: [{ text: '1', x: 53.1, y: 3.33 }, { text: '3', x: 256.3, y: 2.71 }]
      }
    }
  },
  plugins: [frame, notes]
});
</script>
</body>
</html>
